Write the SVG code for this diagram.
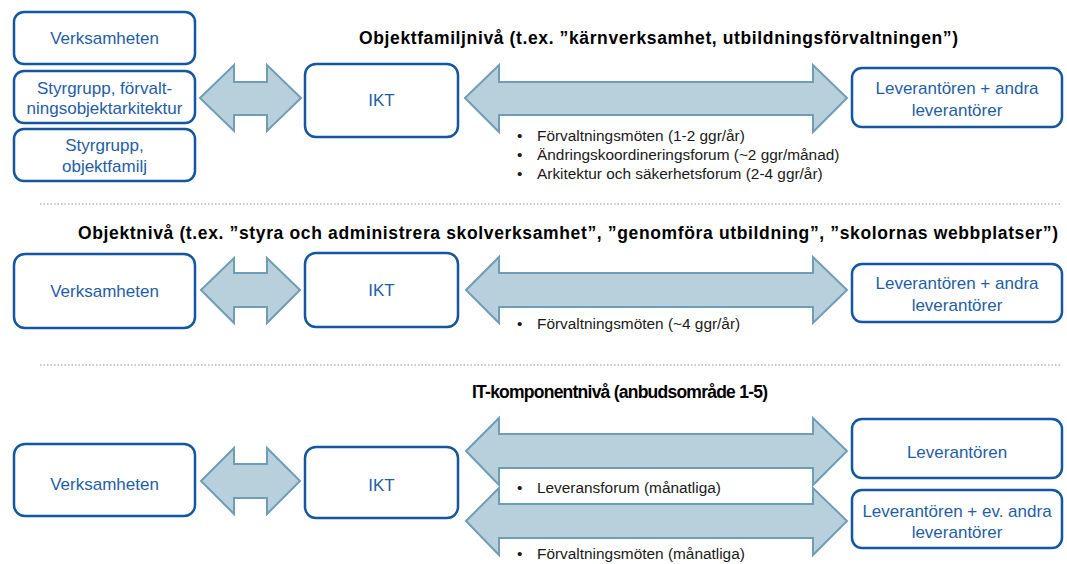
<svg xmlns="http://www.w3.org/2000/svg" width="1067" height="564" viewBox="0 0 1067 564">
<style>
  .box { fill: #ffffff; stroke: #1456a0; stroke-width: 2.5; }
  .arr { fill: #b8cfdc; stroke: #6f9db5; stroke-width: 2; stroke-linejoin: miter; }
  .bt { font-family: "Liberation Sans", Arial, sans-serif; font-size: 17px; fill: #1f5ea6; text-anchor: middle; }
  .title { font-family: "Liberation Sans", Arial, sans-serif; font-size: 17.5px; font-weight: bold; fill: #000000; text-anchor: middle; }
  .bul { font-family: "Liberation Sans", Arial, sans-serif; font-size: 15.4px; fill: #1a1a1a; }
  .sep { stroke: #c8c8c8; stroke-width: 2; stroke-dasharray: 1.5 2; fill: none; }
</style>
<rect width="1067" height="564" fill="#ffffff"/>

<g id="separators">
  <line class="sep" x1="40" y1="204" x2="1062" y2="204"/>
  <line class="sep" x1="40" y1="365" x2="1062" y2="365"/>
</g>

<g id="titles">
  <text class="title" x="658.5" y="44" textLength="599" lengthAdjust="spacing">Objektfamiljnivå (t.ex. ”kärnverksamhet, utbildningsförvaltningen”)</text>
  <text class="title" x="568" y="239" textLength="980" lengthAdjust="spacing">Objektnivå (t.ex. ”styra och administrera skolverksamhet”, ”genomföra utbildning”, ”skolornas webbplatser”)</text>
  <text class="title" x="620" y="398" textLength="296" lengthAdjust="spacing">IT-komponentnivå (anbudsområde 1-5)</text>
</g>

<g id="connectors">
  <polygon class="arr" points="200,98 234,65 234,82 267,82 267,65 301,98 267,131 267,115 234,115 234,131"/>
  <polygon class="arr" points="465,98 499,65 499,82 813,82 813,65 847,98 813,132 813,115 499,115 499,132"/>
  <polygon class="arr" points="201,290 234,258 234,273 267,273 267,258 300,290 267,323 267,307 234,307 234,323"/>
  <polygon class="arr" points="466,290 499,257 499,273 813,273 813,257 847,290 813,323 813,307 499,307 499,323"/>
  <polygon class="arr" points="201,481 234,448 234,464 267,464 267,448 300,481 267,514 267,498 234,498 234,514"/>
  <polygon class="arr" points="466,451 499,418 499,434 813,434 813,418 847,451 813,485 813,468 499,468 499,485"/>
  <polygon class="arr" points="466,521 499,488 499,504 813,504 813,488 847,521 813,555 813,538 499,538 499,555"/>
</g>

<g id="bullets">
  <text class="bul" x="517" y="141">•</text><text class="bul" x="537" y="141">Förvaltningsmöten (1-2 ggr/år)</text>
  <text class="bul" x="517" y="160">•</text><text class="bul" x="537" y="160">Ändringskoordineringsforum (~2 ggr/månad)</text>
  <text class="bul" x="517" y="179">•</text><text class="bul" x="537" y="179">Arkitektur och säkerhetsforum (2-4 ggr/år)</text>
  <text class="bul" x="517" y="329">•</text><text class="bul" x="537" y="329">Förvaltningsmöten (~4 ggr/år)</text>
  <text class="bul" x="517" y="493">•</text><text class="bul" x="537" y="493">Leveransforum (månatliga)</text>
  <text class="bul" x="517" y="559">•</text><text class="bul" x="537" y="559">Förvaltningsmöten (månatliga)</text>
</g>

<g id="r1-verksamheten">
  <rect class="box" x="14" y="12" width="181" height="52" rx="10"/>
  <text class="bt" x="104.5" y="44">Verksamheten</text>
</g>
<g id="r1-styrgrupp-forvaltning">
  <rect class="box" x="14" y="71" width="181" height="52" rx="10"/>
  <text class="bt" x="104.5" y="94">Styrgrupp, förvalt-</text>
  <text class="bt" x="104.5" y="114">ningsobjektarkitektur</text>
</g>
<g id="r1-styrgrupp-objektfamilj">
  <rect class="box" x="14" y="129" width="181" height="52" rx="10"/>
  <text class="bt" x="104.5" y="151">Styrgrupp,</text>
  <text class="bt" x="104.5" y="172">objektfamilj</text>
</g>
<g id="r1-ikt">
  <rect class="box" x="305" y="64" width="153" height="73" rx="11"/>
  <text class="bt" x="381.5" y="106">IKT</text>
</g>
<g id="r1-leverantoren">
  <rect class="box" x="852" y="68" width="210" height="59" rx="10"/>
  <text class="bt" x="957" y="94">Leverantören + andra</text>
  <text class="bt" x="957" y="116">leverantörer</text>
</g>

<g id="r2-verksamheten">
  <rect class="box" x="14" y="254" width="181" height="74" rx="11"/>
  <text class="bt" x="104.5" y="297">Verksamheten</text>
</g>
<g id="r2-ikt">
  <rect class="box" x="305" y="253" width="153" height="74" rx="11"/>
  <text class="bt" x="381.5" y="296">IKT</text>
</g>
<g id="r2-leverantoren">
  <rect class="box" x="852" y="264" width="210" height="58" rx="10"/>
  <text class="bt" x="957" y="289">Leverantören + andra</text>
  <text class="bt" x="957" y="311">leverantörer</text>
</g>

<g id="r3-verksamheten">
  <rect class="box" x="14" y="444" width="181" height="72" rx="11"/>
  <text class="bt" x="104.5" y="490">Verksamheten</text>
</g>
<g id="r3-ikt">
  <rect class="box" x="305" y="447" width="153" height="71" rx="11"/>
  <text class="bt" x="381.5" y="491">IKT</text>
</g>
<g id="r3-leverantoren">
  <rect class="box" x="852" y="419" width="210" height="59" rx="10"/>
  <text class="bt" x="957" y="458">Leverantören</text>
</g>
<g id="r3-leverantoren-andra">
  <rect class="box" x="852" y="490" width="210" height="58" rx="10"/>
  <text class="bt" x="957" y="517">Leverantören + ev. andra</text>
  <text class="bt" x="957" y="538">leverantörer</text>
</g>
</svg>
